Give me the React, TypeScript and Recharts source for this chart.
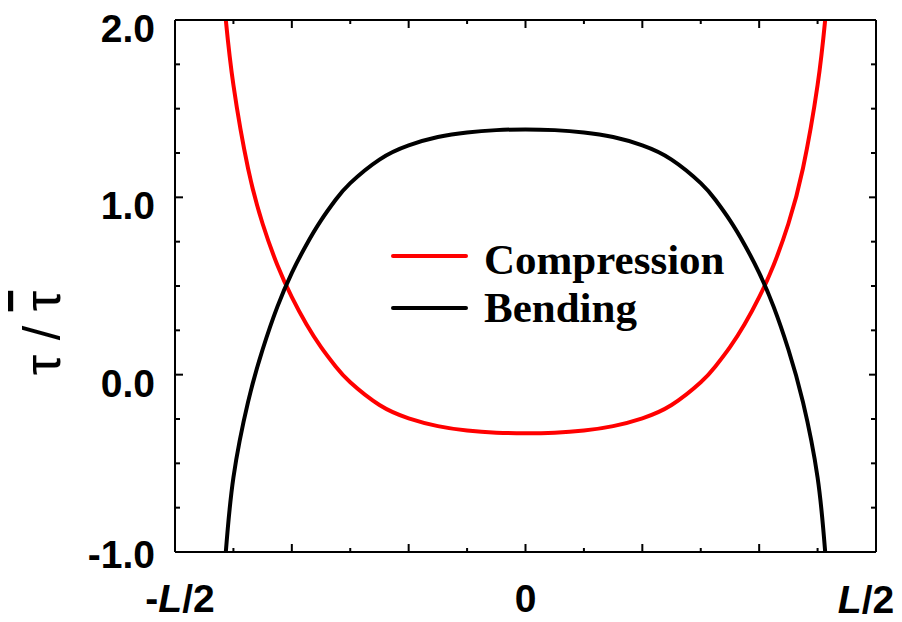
import { LineChart, Line, XAxis, YAxis, Legend } from 'recharts'

// position along the beam, in tick units (frame spans -6..6, beam ends near ±5.13)
const positions = [
  -5.13, -5.0, -4.75, -4.5, -4.25, -4.0, -3.75, -3.5, -3.25, -3.0, -2.5, -2.0, -1.5, -1.0, -0.5, 0,
  0.5, 1.0, 1.5, 2.0, 2.5, 3.0, 3.25, 3.5, 3.75, 4.0, 4.25, 4.5, 4.75, 5.0, 5.13,
]
const compression = [
  2.0, 1.633, 1.164, 0.851, 0.62, 0.437, 0.284, 0.155, 0.046, -0.043, -0.171, -0.246, -0.29, -0.315, -0.327, -0.33,
  -0.327, -0.315, -0.29, -0.246, -0.171, -0.043, 0.046, 0.155, 0.284, 0.437, 0.62, 0.851, 1.164, 1.633, 2.0,
]
const bending = [
  -1.0, -0.58, -0.155, 0.142, 0.381, 0.574, 0.733, 0.87, 0.986, 1.08, 1.213, 1.293, 1.34, 1.366, 1.379, 1.383,
  1.379, 1.366, 1.34, 1.293, 1.213, 1.08, 0.986, 0.87, 0.733, 0.574, 0.381, 0.142, -0.155, -0.58, -1.0,
]

const xTicks = [-6, -5, -4, -3, -2, -1, 0, 1, 2, 3, 4, 5, 6]
const yTicks = [-1, -0.75, -0.5, -0.25, 0, 0.25, 0.5, 0.75, 1, 1.25, 1.5, 1.75, 2]

const data = positions.map((x, i) => ({ x, compression: compression[i], bending: bending[i] }))

const sans = '"Liberation Sans", Arial, sans-serif'
const serif = '"Liberation Serif", "Times New Roman", serif'

function BottomTick(props: any) {
  const { x, y, payload } = props
  const v = payload.value
  const len = v % 2 === 0 ? 8 : 4
  let label = null
  if (v === -6) {
    label = (
      <text x={x + 5} y={y + 60} textAnchor="middle" fontFamily={sans} fontWeight="bold" fontSize={39} fill="#000">
        -<tspan fontStyle="italic">L</tspan>/2
      </text>
    )
  } else if (v === 0) {
    label = (
      <text x={x} y={y + 60} textAnchor="middle" fontFamily={sans} fontWeight="bold" fontSize={39} fill="#000">
        0
      </text>
    )
  } else if (v === 6) {
    label = (
      <text x={x - 10} y={y + 61} textAnchor="middle" fontFamily={sans} fontWeight="bold" fontSize={39} fill="#000">
        <tspan fontStyle="italic">L</tspan>/2
      </text>
    )
  }
  return (
    <g>
      <line x1={x} y1={y} x2={x} y2={y - len} stroke="#000" strokeWidth={2} />
      {label}
    </g>
  )
}

function TopTick(props: any) {
  const { x, y, payload } = props
  const len = payload.value % 2 === 0 ? 8 : 4
  return <line x1={x} y1={y} x2={x} y2={y + len} stroke="#000" strokeWidth={2} />
}

function LeftTick(props: any) {
  const { x, y, payload } = props
  const v = payload.value
  const major = Number.isInteger(v)
  return (
    <g>
      <line x1={x} y1={y} x2={x + (major ? 8 : 5)} y2={y} stroke="#000" strokeWidth={2} />
      {major && (
        <text x={x - 20} y={y + (v === -1 ? 16 : 22)} textAnchor="end" fontFamily={sans} fontWeight="bold" fontSize={39} fill="#000">
          {v.toFixed(1)}
        </text>
      )}
    </g>
  )
}

function RightTick(props: any) {
  const { x, y, payload } = props
  const len = Number.isInteger(payload.value) ? 7 : 5
  return <line x1={x} y1={y} x2={x - len} y2={y} stroke="#000" strokeWidth={2} />
}

function YTitle() {
  return (
    <text x={60} y={333} transform="rotate(-90, 60, 333)" textAnchor="middle" fontFamily={sans} fontSize={52} fill="#000">
      τ / <tspan style={{ textDecoration: 'overline' }}>τ</tspan>
    </text>
  )
}

function LegendBox() {
  return (
    <svg width={370} height={110}>
      <line x1={8} y1={28} x2={81} y2={28} stroke="#ff0000" strokeWidth={4} strokeLinecap="round" />
      <text x={99} y={46} fontFamily={serif} fontWeight="bold" fontSize={43} fill="#000">Compression</text>
      <line x1={8} y1={80} x2={81} y2={80} stroke="#000" strokeWidth={4} strokeLinecap="round" />
      <text x={99} y={94} fontFamily={serif} fontWeight="bold" fontSize={43} fill="#000">Bending</text>
    </svg>
  )
}

const axisLine = { stroke: '#000', strokeWidth: 2 }

export default function App() {
  return (
    <div style={{ position: 'absolute', left: 0, top: 0, background: '#fff' }}>
      <LineChart width={902} height={622} data={data} margin={{ top: 19, right: 25, bottom: 0, left: 0 }}>
        <XAxis
          dataKey="x"
          type="number"
          domain={[-6, 6]}
          ticks={xTicks}
          interval={0}
          height={70}
          tickLine={false}
          tickSize={0}
          tickMargin={0}
          axisLine={axisLine}
          tick={BottomTick}
        />
        <XAxis
          xAxisId="top"
          orientation="top"
          dataKey="x"
          type="number"
          domain={[-6, 6]}
          allowDataOverflow
          ticks={xTicks}
          interval={0}
          height={1}
          tickLine={false}
          tickSize={0}
          tickMargin={0}
          axisLine={axisLine}
          tick={TopTick}
        />
        <YAxis
          type="number"
          domain={[-1, 2]}
          allowDataOverflow
          ticks={yTicks}
          interval={0}
          width={175}
          tickLine={false}
          tickSize={0}
          tickMargin={0}
          axisLine={axisLine}
          tick={LeftTick}
          label={{ content: YTitle }}
        />
        <YAxis
          yAxisId="right"
          orientation="right"
          type="number"
          domain={[-1, 2]}
          allowDataOverflow
          ticks={yTicks}
          interval={0}
          width={1}
          tickLine={false}
          tickSize={0}
          tickMargin={0}
          axisLine={axisLine}
          tick={RightTick}
        />
        <Legend
          layout="vertical"
          align="center"
          verticalAlign="middle"
          wrapperStyle={{ position: 'absolute', left: 385, top: 228, width: 370, height: 110 }}
          content={LegendBox}
        />
        {/* invisible series so the top and right frame axes get a domain */}
        <Line
          xAxisId="top"
          yAxisId="right"
          dataKey="bending"
          stroke="none"
          dot={false}
          activeDot={false}
          legendType="none"
          isAnimationActive={false}
        />
        <Line
          type="natural"
          dataKey="compression"
          stroke="#ff0000"
          strokeWidth={4}
          strokeLinecap="round"
          dot={false}
          isAnimationActive={false}
        />
        <Line
          type="natural"
          dataKey="bending"
          stroke="#000"
          strokeWidth={4}
          strokeLinecap="round"
          dot={false}
          isAnimationActive={false}
        />
      </LineChart>
    </div>
  )
}
